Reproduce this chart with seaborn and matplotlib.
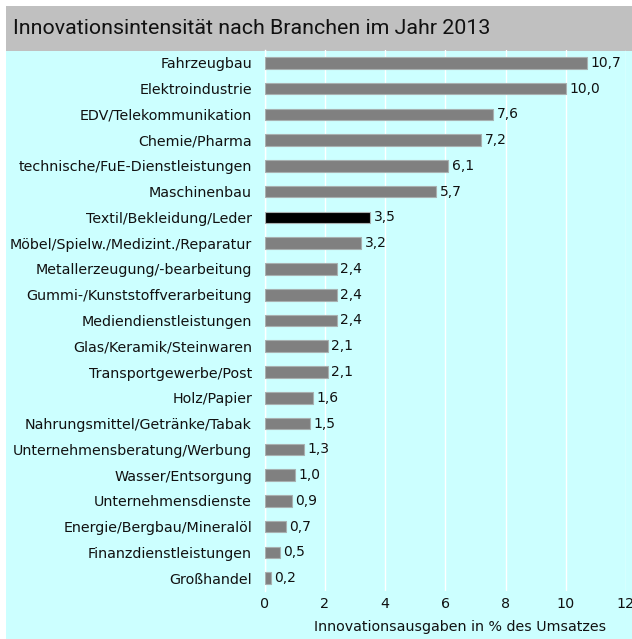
import matplotlib
matplotlib.use("Agg")
import matplotlib.pyplot as plt
import seaborn as sns
import pandas as pd
from matplotlib.patches import Rectangle

categories = [
    "Fahrzeugbau", "Elektroindustrie", "EDV/Telekommunikation", "Chemie/Pharma",
    "technische/FuE-Dienstleistungen", "Maschinenbau", "Textil/Bekleidung/Leder",
    "Möbel/Spielw./Medizint./Reparatur", "Metallerzeugung/-bearbeitung",
    "Gummi-/Kunststoffverarbeitung", "Mediendienstleistungen", "Glas/Keramik/Steinwaren",
    "Transportgewerbe/Post", "Holz/Papier", "Nahrungsmittel/Getränke/Tabak",
    "Unternehmensberatung/Werbung", "Wasser/Entsorgung", "Unternehmensdienste",
    "Energie/Bergbau/Mineralöl", "Finanzdienstleistungen", "Großhandel",
]
values = [10.7, 10.0, 7.6, 7.2, 6.1, 5.7, 3.5, 3.2, 2.4, 2.4, 2.4, 2.1, 2.1,
          1.6, 1.5, 1.3, 1.0, 0.9, 0.7, 0.5, 0.2]
highlight = "Textil/Bekleidung/Leder"
xticks = [0, 2, 4, 6, 8, 10, 12]
title = "Innovationsintensität nach Branchen im Jahr 2013"
xlabel = "Innovationsausgaben in % des Umsatzes"

df = pd.DataFrame({"Branche": categories, "Wert": values})
palette = {c: ("#000000" if c == highlight else "#808080") for c in categories}

sns.set_theme(style="white")
plt.rcParams["font.family"] = ["DejaVu Sans"]

W, H = 632, 639
fig = plt.figure(figsize=(W / 100, H / 100), dpi=100)
fig.patch.set_facecolor("white")
# background panels
fig.patches.append(Rectangle((6 / W, 0), 1 - 6 / W, 1 - 51 / H, transform=fig.transFigure,
                             facecolor="#ccffff", edgecolor="none", zorder=-10))
fig.patches.append(Rectangle((6 / W, 1 - 51 / H), 1 - 6 / W, 45 / H, transform=fig.transFigure,
                             facecolor="#c0c0c0", edgecolor="none", zorder=-10))
fig.text(13 / W, 1 - 28.5 / H, title, fontsize=15.4, color="#111111", va="center", ha="left",
         family=["Roboto", "DejaVu Sans"])

ax = fig.add_axes([264.5 / W, 1 - 591 / H, (626 - 264.5) / W, (591 - 50) / H])
ax.set_facecolor("none")
sns.barplot(data=df, y="Branche", x="Wert", hue="Branche", palette=palette,
            order=categories, hue_order=categories, legend=False, width=0.45,
            edgecolor="#a8b0b0", linewidth=0.8, ax=ax, zorder=3)
ax.set_xlim(0, 12)
ax.set_ylim(len(categories) - 0.5, -0.5)
ax.set_xticks(xticks)
ax.set_xticklabels([str(t) for t in xticks])
ax.grid(axis="x", color="white", linewidth=1.0, zorder=0)
ax.set_axisbelow(True)
for s in ["top", "right", "bottom"]:
    ax.spines[s].set_visible(False)
ax.spines["left"].set_color("white")
ax.spines["left"].set_linewidth(1.0)
ax.tick_params(axis="y", length=0, pad=9, labelsize=10.3, labelcolor="#111111")
ax.tick_params(axis="x", length=0, pad=4, labelsize=10.3, labelcolor="#111111")
ax.set_ylabel("")
ax.set_xlabel(xlabel, fontsize=10.3, color="#111111", labelpad=7, x=0.541)

for i, v in enumerate(values):
    ax.text(v + 0.12, i, f"{v:.1f}".replace(".", ","), va="center", ha="left",
            fontsize=10, color="#111111")

fig.savefig("out.png", dpi=100)
